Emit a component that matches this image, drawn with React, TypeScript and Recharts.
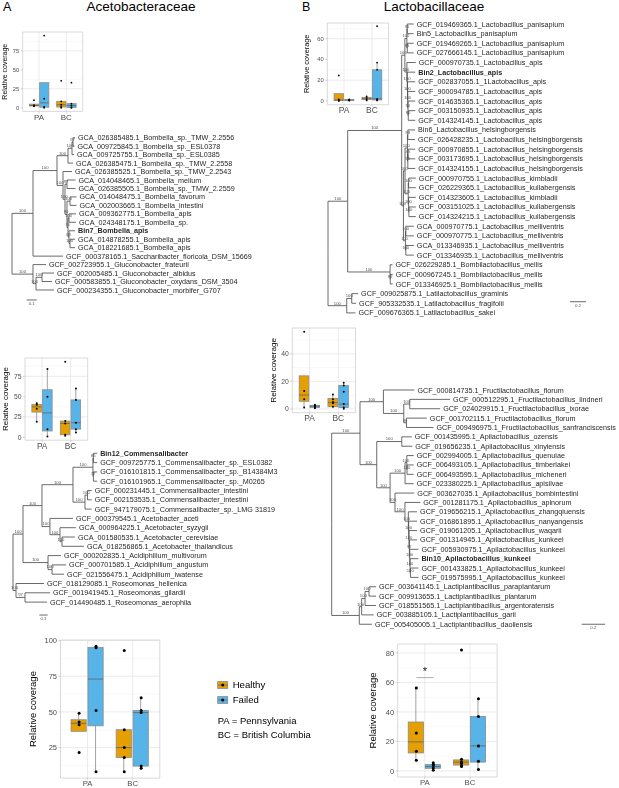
import React from 'react';
import { ComposedChart, Line, Scatter, Bar, XAxis, YAxis, CartesianGrid, ReferenceArea, Legend } from 'recharts';

const FONT = '"Liberation Sans", Arial, Helvetica, sans-serif';
const HEALTHY_COLOR = '#E69F00';
const FAILED_COLOR = '#56B4E9';
const BOX_LINE = '#8c8c8c';
const TREE_LINE = '#454545';
const CATEGORIES = ['PA', 'BC'];
const GROUPS = ['Healthy', 'Failed'];
const REGION_NOTES = ['PA = Pennsylvania', 'BC = British Columbia'];
const DODGE = 0.1875;

// ---------- box plot data: [lower whisker, Q1, median, Q3, upper whisker] for PA, BC ----------
const BOMBELLA_HEALTHY_BOX = [[2, 2.4, 3, 4.8, 4.8], [0, 1, 4, 8.5, 8.5]];
const BOMBELLA_FAILED_BOX = [[0, 0.75, 6.5, 33, 33], [0, 0.5, 3, 5.5, 5.5]];
const BOMBELLA_HEALTHY_PTS = [[10, 3.5, 2.5, 2], [35.5, 8.5, 4, 1, 0]];
const BOMBELLA_FAILED_PTS = [[95, 12, 1, 0], [33, 5.5, 3, 0.5, 0]];

const COMMENSALIBACTER_HEALTHY_BOX = [[19, 31, 37.5, 40.5, 42], [2, 3, 17, 20, 20]];
const COMMENSALIBACTER_FAILED_BOX = [[1, 7.75, 30, 58.5, 84], [6, 10, 18, 46, 60]];
const COMMENSALIBACTER_HEALTHY_PTS = [[42, 40, 35, 19], [93, 20, 17, 3, 2]];
const COMMENSALIBACTER_FAILED_PTS = [[84, 50, 10, 1], [60, 46, 18, 10, 6]];

const ACETO_HEALTHY_BOX = [[36.4, 36.4, 42, 44.5, 49], [8, 18, 25, 37.5, 37.5]];
const ACETO_FAILED_BOX = [[8, 40.25, 73, 95.25, 96], [10.5, 12, 49.5, 51, 60]];
const ACETO_HEALTHY_PTS = [[49, 43, 41, 21.5], [93, 37.5, 25, 18, 8]];
const ACETO_FAILED_PTS = [[96, 95, 51, 8], [60, 51, 49.5, 12, 10.5]];

const LACTOBACILLUS_HEALTHY_BOX = [[0, 0.4, 1, 7, 7], [0.5, 1.3, 2.2, 3.5, 4.5]];
const LACTOBACILLUS_FAILED_BOX = [[0.3, 0.6, 0.9, 1.2, 1.5], [0.5, 1, 2, 30, 37]];
const LACTOBACILLUS_HEALTHY_PTS = [[24.5, 1.5, 0.5, 0], [4.5, 3, 1.5, 0.5]];
const LACTOBACILLUS_FAILED_PTS = [[1.5, 1.1, 0.7, 0.3], [72, 37, 30, 2, 1, 0.5]];

const APILACTO_HEALTHY_BOX = [[1, 5.5, 10, 24, 24], [1, 1.5, 4.5, 7.5, 10.5]];
const APILACTO_FAILED_BOX = [[0.5, 1, 2, 2.5, 3], [0, 1, 3.5, 17, 19]];
const APILACTO_HEALTHY_PTS = [[56, 13, 7, 1], [10.5, 7, 5, 4, 1.5]];
const APILACTO_FAILED_PTS = [[3, 2.5, 2, 1, 0.5], [19, 17, 12.5, 3.5, 1, 0]];

const LACTO_HEALTHY_BOX = [[7.3, 12.2, 19.7, 33.2, 56.3], [3, 4, 6, 7.5, 8]];
const LACTO_FAILED_BOX = [[0.5, 1.8, 3, 4.3, 5.5], [1, 6, 17, 37, 49]];
const LACTO_HEALTHY_PTS = [[56.3, 25.8, 13.4, 7.3], [82, 8, 6, 5, 3.5, 3]];
const LACTO_FAILED_PTS = [[5.5, 4.5, 3.5, 2, 0.5], [49, 37, 17, 6.5, 1]];
const LACTO_SIG_LINE = [{ x: 1 - DODGE, y: 63.3 }, { x: 1 + DODGE, y: 63.3 }];
const LACTO_SIG_STAR = [{ x: 1, y: 69.3, s: '*' }];

const TICKS_25 = [0, 25, 50, 75];
const MINOR_25 = [12.5, 37.5, 62.5, 87.5];
const TICKS_ACETO = [25, 50, 75, 100];
const TICKS_20 = [0, 20, 40, 60];
const MINOR_20 = [10, 30, 50, 70];
const TICKS_APILACTO = [0, 20, 40];
const MINOR_APILACTO = [10, 30, 50];
const TICKS_LACTO = [0, 20, 40, 60, 80];

// ---------- trees ----------
const BOLD_LABELS = ['Bin7_Bombella_apis', 'Bin12_Commensalibacter', 'Bin2_Lactobacillus_apis', 'Bin10_Apilactobacillus_kunkeei'];

const A1_LEAVES = [
  'GCA_026385485.1_Bombella_sp._TMW_2.2556',
  'GCA_009725845.1_Bombella_sp._ESL0378',
  'GCA_009725755.1_Bombella_sp._ESL0385',
  'GCA_026385475.1_Bombella_sp._TMW_2.2558',
  'GCA_026385525.1_Bombella_sp._TMW_2.2543',
  'GCA_014048465.1_Bombella_mellum',
  'GCA_026385505.1_Bombella_sp._TMW_2.2559',
  'GCA_014048475.1_Bombella_favorum',
  'GCA_002003665.1_Bombella_intestini',
  'GCA_009362775.1_Bombella_apis',
  'GCA_024348175.1_Bombella_sp.',
  'Bin7_Bombella_apis',
  'GCA_014878255.1_Bombella_apis',
  'GCA_018221685.1_Bombella_apis',
  'GCF_000378165.1_Saccharibacter_floricola_DSM_15669',
  'GCF_002723955.1_Gluconobacter_frateurii',
  'GCF_002005485.1_Gluconobacter_albidus',
  'GCF_000583855.1_Gluconobacter_oxydans_DSM_3504',
  'GCF_000234355.1_Gluconobacter_morbifer_G707',
];
const A1_UPPER = '(((0:0.02,1:0.015)97:0.01,2:0.02)100:0.04,3:0.05)100:0.11';
const A1_MELLUM = '(5:0.085,6:0.085)97:0.02';
const A1_APIS = '((9:0.07,10:0.07)100:0.01,(11:0.06,(12:0.05,13:0.05)100:0.01)63:0.01)75:0.01';
const A1_REST = '((7:0.065,8:0.065)100:0.03,' + A1_APIS + ')90:0.02';
const A1_LOWER = '(4:0.09,(' + A1_MELLUM + ',' + A1_REST + ')100:0.02)100:0.06';
const A1_BOMBELLA = '(' + A1_UPPER + ',' + A1_LOWER + ')100:0.24';
const A1_GLUCONO = '(15:0.13,((16:0.12,17:0.1)100:0.06,18:0.18)100:0.03)100:0.21';
const A1_TREE = '((' + A1_BOMBELLA + ',14:0.30)100:0.21,' + A1_GLUCONO + ');';

const A2_LEAVES = [
  'Bin12_Commensalibacter',
  'GCF_009725775.1_Commensalibacter_sp._ESL0382',
  'GCF_016101815.1_Commensalibacter_sp._B14384M3',
  'GCF_016101965.1_Commensalibacter_sp._M0265',
  'GCF_000231445.1_Commensalibacter_intestini',
  'GCF_002153535.1_Commensalibacter_intestini',
  'GCF_947179075.1_Commensalibacter_sp._LMG 31819',
  'GCF_000379545.1_Acetobacter_aceti',
  'GCA_000964225.1_Acetobacter_syzygii',
  'GCA_001580535.1_Acetobacter_cerevisiae',
  'GCA_018256865.1_Acetobacter_thailandicus',
  'GCF_000202835.1_Acidiphilium_multivorum',
  'GCF_000701585.1_Acidiphilium_angustum',
  'GCF_021556475.1_Acidiphilium_iwatense',
  'GCF_018129085.1_Roseomonas_hellenica',
  'GCF_001941945.1_Roseomonas_gilardii',
  'GCF_014490485.1_Roseomonas_aerophila',
];
const A2_BIN12 = '((0:0.045,1:0.045)85:0.005,(2:0.045,3:0.045)77:0.005)100:0.238';
const A2_INTEST = '((4:0.05,5:0.05)100:0.03,6:0.08)100:0.143';
const A2_ACETO = '(7:0.274,(8:0.19,(9:0.155,10:0.262)100:0.024)100:0.119)100:0.095';
const A2_ACID = '(11:0.155,(12:0.167,13:0.143)100:0.048)100:0.298';
const A2_ROSEO = '(14:0.333,(15:0.298,16:0.262)97:0.107)100:0.036';
const A2_TREE = '((((' + A2_BIN12 + ',' + A2_INTEST + ')100:0.369,' + A2_ACETO + ')100:0.226,' + A2_ACID + ')100:0.119,' + A2_ROSEO + ');';

const B1_LEAVES = [
  'GCF_019469365.1_Lactobacillus_panisapium',
  'Bin5_Lactobacillus_panisapium',
  'GCF_019469265.1_Lactobacillus_panisapium',
  'GCF_027666145.1_Lactobacillus_panisapium',
  'GCF_000970735.1_Lactobacillus_apis',
  'Bin2_Lactobacillus_apis',
  'GCF_002837055.1_1Lactobacillus_apis',
  'GCF_900094785.1_Lactobacillus_apis',
  'GCF_014635365.1_Lactobacillus_apis',
  'GCF_003150935.1_Lactobacillus_apis',
  'GCF_014324145.1_Lactobacillus_apis',
  'Bin6_Lactobacillus_helsingborgensis',
  'GCF_026428235.1_Lactobacillus_helsingborgensis',
  'GCF_000970855.1_Lactobacillus_helsingborgensis',
  'GCF_003173695.1_Lactobacillus_helsingborgensis',
  'GCF_014324155.1_Lactobacillus_helsingborgensis',
  'GCF_000970755.1_Lactobacillus_kimbladii',
  'GCF_026229365.1_Lactobacillus_kullabergensis',
  'GCF_014323605.1_Lactobacillus_kimbladii',
  'GCF_003151025.1_Lactobacillus_kullabergensis',
  'GCF_014324215.1_Lactobacillus_kullabergensis',
  'GCA_000970775.1_Lactobacillus_melliventris',
  'GCF_000970775.1_Lactobacillus_melliventris',
  'GCA_013346935.1_Lactobacillus_melliventris',
  'GCF_013346935.1_Lactobacillus_melliventris',
  'GCF_026229285.1_Bombilactobacillus_mellis',
  'GCF_000967245.1_Bombilactobacillus_mellis',
  'GCF_013346925.1_Bombilactobacillus_mellis',
  'GCF_009025875.1_Latilactobacillus_graminis',
  'GCF_905332535.1_Latilactobacillus_fragifolii',
  'GCF_009676365.1_Latilactobacillus_sakei',
];
const B1_PAN = '((0:0.08,1:0.08)96:0.005,(2:0.08,3:0.08)95:0.005)100:0.025';
const B1_APIS = '(4:0.11,(5:0.1,(6:0.097,(7:0.094,(8:0.091,(9:0.088,10:0.088)80:0.003)90:0.003)100:0.003)100:0.003)100:0.005)100:0.025';
const B1_HELS = '((11:0.09,12:0.09)98:0.005,((13:0.09,14:0.09)45:0.003,15:0.093)96:0.005)100:0.03';
const B1_KK = '((16:0.09,17:0.09)100:0.005,(18:0.09,(19:0.087,20:0.087)100:0.003)100:0.005)100:0.04';
const B1_MEL = '((21:0.1,22:0.1)100:0.005,(23:0.1,24:0.1)100:0.005)100:0.025';
const B1_LACTO = '((' + B1_PAN + ',' + B1_APIS + ')100:0.04,((' + B1_HELS + ',' + B1_KK + ')100:0.02,' + B1_MEL + ')100:0.022)100:0.675';
const B1_BOMBI = '(25:0.03,(26:0.03,27:0.03)97:0.002)100:0.53';
const B1_LATI = '((28:0.08,29:0.055)100:0.0625,30:0.11)100:0.234';
const B1_TREE = '((' + B1_LACTO + ',' + B1_BOMBI + ')100:0.246,' + B1_LATI + ');';

const B2_LEAVES = [
  'GCF_000814735.1_Fructilactobacillus_florum',
  'GCF_000512295.1_Fructilactobacillus_lindneri',
  'GCF_024029915.1_Fructilactobacillus_ixorae',
  'GCF_001702115.1_Fructilactobacillus_florum',
  'GCF_009496975.1_Fructilactobacillus_sanfranciscensis',
  'GCF_001435995.1_Apilactobacillus_ozensis',
  'GCF_019656235.1_Apilactobacillus_xinyiensis',
  'GCF_002994005.1_Apilactobacillus_quenuiae',
  'GCF_006493105.1_Apilactobacillus_timberlakei',
  'GCF_006493595.1_Apilactobacillus_micheneri',
  'GCF_023380225.1_Apilactobacillus_apisilvae',
  'GCF_003627035.1_Apilactobacillus_bombintestini',
  'GCF_001281175.1_Apilactobacillus_apinorum',
  'GCF_019656215.1_Apilactobacillus_zhangqiuensis',
  'GCF_016861895.1_Apilactobacillus_nanyangensis',
  'GCF_019061205.1_Apilactobacillus_waqarii',
  'GCF_001314945.1_Apilactobacillus_kunkeei',
  'GCF_005930975.1_Apilactobacillus_kunkeei',
  'Bin10_Apilactobacillus_kunkeei',
  'GCF_001433825.1_Apilactobacillus_kunkeei',
  'GCF_019575995.1_Apilactobacillus_kunkeei',
  'GCF_003641145.1_Lactiplantibacillus_paraplantarum',
  'GCF_009913655.1_Lactiplantibacillus_plantarum',
  'GCF_018551565.1_Lactiplantibacillus_argentoratensis',
  'GCF_003885105.1_Lactiplantibacillus_garii',
  'GCF_005405005.1_Lactiplantibacillus_daoliensis',
];
const B2_FRUCTI = '(0:0.265,((1:0.345,2:0.26)100:0.051,(3:0.174,4:0.231)96:0.023)100:0.174)100:0.2';
const B2_OZ = '(5:0.085,6:0.09)100:0.214';
const B2_QUEN = '((7:0.059,(8:0.057,9:0.057)100:0.002)100:0.015,10:0.074)100:0.128';
const B2_KUN = '(13:0.075,(14:0.072,(15:0.069,(16:0.066,(17:0.074,(18:0.071,(19:0.068,20:0.068)100:0.003)100:0.003)100:0.003)97:0.003)100:0.003)100:0.003)100:0.029';
const B2_BK = '(11:0.165,(12:0.131,' + B2_KUN + ')100:0.085)100:0.042';
const B2_API = '(' + B2_OZ + ',(' + B2_QUEN + ',' + B2_BK + ')100:0.114)100:0.143';
const B2_LPL = '((((21:0.06,22:0.06)100:0.034,23:0.094)100:0.029,24:0.103)100:0.02,25:0.108)100:0.236';
const B2_TREE = '((' + B2_FRUCTI + ',' + B2_API + ')100:0.242,' + B2_LPL + ');';

// ---------- tree helpers ----------
function parseNewick(src: string) {
  let i = 0;
  const node = (): any => {
    const n: any = { children: [], name: '', len: 0, support: '' };
    if (src[i] === '(') {
      i++;
      n.children.push(node());
      while (src[i] === ',') { i++; n.children.push(node()); }
      i++;
    }
    let label = '';
    while (i < src.length && !'(),:;'.includes(src[i])) label += src[i++];
    if (src[i] === ':') {
      i++;
      let num = '';
      while (i < src.length && !'(),;'.includes(src[i])) num += src[i++];
      n.len = parseFloat(num);
    }
    if (n.children.length) n.support = label.trim(); else n.name = label.trim();
    return n;
  };
  return node();
}

function layoutTree(src: string, leaves: string[]) {
  const root = parseNewick(src);
  let next = 0;
  const place = (n: any, x: number) => {
    n.x = x;
    if (!n.children.length) n.y = next++;
    else {
      n.children.forEach((c: any) => place(c, x + c.len));
      n.y = (n.children[0].y + n.children[n.children.length - 1].y) / 2;
    }
  };
  place(root, 0);
  const segs: any[] = [];
  const tips: any[] = [];
  const supports: any[] = [];
  const walk = (n: any, p: any) => {
    if (p) {
      segs.push({ x: p.x, y: p.y }, { x: p.x, y: n.y }, { x: n.x, y: n.y }, { x: n.x, y: null });
      if (n.children.length && n.support) supports.push({ x: (p.x + n.x) / 2, y: n.y, s: n.support });
    }
    if (!n.children.length) {
      const label = leaves[Number(n.name)];
      tips.push({ x: n.x, y: n.y, label, bold: BOLD_LABELS.includes(label) });
    }
    n.children.forEach((c: any) => walk(c, n));
  };
  walk(root, null);
  return { segs, tips, supports };
}

const tipShape = (p: any) => {
  const d = p.payload || p;
  return (
    <text x={p.cx + 3} y={p.cy} dy="0.35em" fontSize={7.2} fontFamily={FONT} fill="#262626" fontWeight={d.bold ? 'bold' : 'normal'}>
      {d.label}
    </text>
  );
};
const supportShape = (p: any) => {
  const d = p.payload || p;
  return (
    <text x={p.cx} y={p.cy - 1.1} textAnchor="middle" fontSize={4.2} fontFamily={FONT} fill="#555">
      {d.s}
    </text>
  );
};
const scaleLabelShape = (p: any) => {
  const d = p.payload || p;
  return (
    <text x={p.cx} y={p.cy + 4.8} textAnchor="middle" fontSize={4.4} fontFamily={FONT} fill="#555">
      {d.s}
    </text>
  );
};

function TreeChart(props: any) {
  const { tree, leaves, left, top, width, height, rootPx, y0, spacing, ppu, bar } = props;
  const { segs, tips, supports } = layoutTree(tree, leaves);
  const xMin = -(rootPx - left) / ppu;
  const yMin = -(y0 - top) / spacing;
  const barLine = [{ x: bar.x, y: bar.y }, { x: bar.x + bar.len, y: bar.y }];
  const barLabel = [{ x: bar.x + bar.len / 2, y: bar.y, s: bar.label }];
  return (
    <div style={{ position: 'absolute', left, top, willChange: 'transform' }}>
      <ComposedChart width={width} height={height} margin={{ top: 0, right: 0, bottom: 0, left: 0 }}>
        <XAxis type="number" dataKey="x" domain={[xMin, xMin + width / ppu]} allowDataOverflow hide />
        <YAxis type="number" dataKey="y" domain={[yMin, yMin + height / spacing]} allowDataOverflow hide reversed />
        <Line data={segs} dataKey="y" stroke={TREE_LINE} strokeWidth={0.8} dot={false} activeDot={false} connectNulls={false} isAnimationActive={false} />
        <Line data={barLine} dataKey="y" stroke={TREE_LINE} strokeWidth={0.8} dot={false} activeDot={false} isAnimationActive={false} />
        <Scatter data={tips} shape={tipShape} isAnimationActive={false} />
        <Scatter data={supports} shape={supportShape} isAnimationActive={false} />
        <Scatter data={barLabel} shape={scaleLabelShape} isAnimationActive={false} />
      </ComposedChart>
    </div>
  );
}

// ---------- box plot helpers ----------
function boxShape(key: string, fill: string) {
  return (props: any) => {
    const { x, y, width, height, payload } = props;
    const s = payload[key];
    const [lo, q1, md, q3, hi] = s;
    const span = hi - lo;
    if (!span || !isFinite(height)) return <g />;
    const top = Math.min(y, y + height);
    const bottom = Math.max(y, y + height);
    const k = (bottom - top) / span;
    const py = (v: number) => bottom - (v - lo) * k;
    const cx = x + width / 2;
    return (
      <g>
        <line x1={cx} x2={cx} y1={py(hi)} y2={py(lo)} stroke={BOX_LINE} strokeWidth={0.8} />
        <rect x={x} y={py(q3)} width={width} height={Math.max(0.6, py(q1) - py(q3))} fill={fill} stroke={BOX_LINE} strokeWidth={0.8} />
        <line x1={x} x2={x + width} y1={py(md)} y2={py(md)} stroke="#6a6a6a" strokeWidth={0.9} />
      </g>
    );
  };
}

const dotShape = (r: number) => (p: any) => <circle cx={p.cx} cy={p.cy} r={r} fill="#000" />;
const starShape = (p: any) => {
  const d = p.payload || p;
  return (
    <text x={p.cx} y={p.cy} dy="0.55em" textAnchor="middle" fontSize={11} fontFamily={FONT} fill="#222">
      {d.s}
    </text>
  );
};

function LegendBox({ fill, y }: any) {
  return (
    <g>
      <rect x={11.7} y={y - 3.4} width={10} height={6.8} fill={fill} stroke={BOX_LINE} strokeWidth={0.8} />
      <line x1={11.7} x2={21.7} y1={y} y2={y} stroke="#6a6a6a" strokeWidth={0.8} />
      <circle cx={16.7} cy={y} r={1.5} fill="#000" />
    </g>
  );
}

function BoxPanel(props: any) {
  const { plot, domain, ticks, minor, healthyBox, failedBox, healthyPts, failedPts, tickFont, xFont, titleFont, titleX, dotR, legendAt, children } = props;
  const chartLeft = Math.max(0, titleX - titleFont);
  const AX = plot.x - chartLeft;
  const TOPM = 6;
  const XB = 16;
  const RM = legendAt ? 150 : 6;
  const chartTop = plot.y - TOPM;
  const width = AX + plot.w + RM;
  const height = TOPM + plot.h + XB;
  const band = plot.w / 2.2;
  const rows = CATEGORIES.map((c, i) => ({
    cat: c,
    hR: [healthyBox[i][0], healthyBox[i][4]],
    fR: [failedBox[i][0], failedBox[i][4]],
    h: healthyBox[i],
    f: failedBox[i],
  }));
  const hPts = healthyPts.flatMap((vals: number[], i: number) => vals.map((v) => ({ x: i + 1 - DODGE, y: v })));
  const fPts = failedPts.flatMap((vals: number[], i: number) => vals.map((v) => ({ x: i + 1 + DODGE, y: v })));
  const tcx = titleX - chartLeft;
  const tcy = TOPM + plot.h / 2;
  const renderTitle = () => (
    <text x={tcx} y={tcy} transform={`rotate(-90 ${tcx} ${tcy})`} textAnchor="middle" dy="0.35em" fontSize={titleFont} fontFamily={FONT} fill="#000">
      Relative coverage
    </text>
  );
  const legendContent = () => (
    <svg width={140} height={80} style={{ overflow: 'visible', display: 'block' }}>
      <LegendBox fill={HEALTHY_COLOR} y={10} />
      <text x={26.7} y={10} dy="0.35em" fontSize={9.6} fontFamily={FONT} fill="#000">{GROUPS[0]}</text>
      <LegendBox fill={FAILED_COLOR} y={25} />
      <text x={26.7} y={25} dy="0.35em" fontSize={9.6} fontFamily={FONT} fill="#000">{GROUPS[1]}</text>
      <text x={11.7} y={45.3} dy="0.35em" fontSize={9.5} fontFamily={FONT} fill="#000">{REGION_NOTES[0]}</text>
      <text x={11.7} y={60} dy="0.35em" fontSize={9.5} fontFamily={FONT} fill="#000">{REGION_NOTES[1]}</text>
    </svg>
  );
  const tickStyle = { fontSize: tickFont, fill: '#4d4d4d', fontFamily: FONT };
  return (
    <div style={{ position: 'absolute', left: chartLeft, top: chartTop, willChange: 'transform' }}>
      <ComposedChart width={width} height={height} data={rows} margin={{ top: TOPM, right: RM, bottom: 0, left: 0 }} barSize={0.3375 * band} barGap={0.0375 * band}>
        <CartesianGrid xAxisId="num" horizontalValues={minor} vertical={false} stroke="#f1f1f1" strokeWidth={0.5} />
        <CartesianGrid xAxisId="num" horizontalValues={ticks} verticalValues={[1, 2]} stroke="#e3e3e3" strokeWidth={0.7} />
        <XAxis xAxisId="cat" dataKey="cat" type="category" padding={{ left: band * 0.1, right: band * 0.1 }} height={XB} tickSize={2} tickMargin={0.5} axisLine={false} tickLine={{ stroke: '#b3b3b3', strokeWidth: 0.6 }} tick={{ fontSize: xFont, fill: '#4d4d4d', fontFamily: FONT }} interval={0} />
        <XAxis xAxisId="num" type="number" dataKey="x" domain={[0.4, 2.6]} allowDataOverflow hide />
        <YAxis type="number" dataKey="y" domain={domain} allowDataOverflow ticks={ticks} width={AX} tickSize={2} tickMargin={1.5} axisLine={false} tickLine={{ stroke: '#b3b3b3', strokeWidth: 0.6 }} tick={tickStyle} label={renderTitle} />
        <Bar xAxisId="cat" dataKey="hR" shape={boxShape('h', HEALTHY_COLOR)} isAnimationActive={false} />
        <Bar xAxisId="cat" dataKey="fR" shape={boxShape('f', FAILED_COLOR)} isAnimationActive={false} />
        <Scatter xAxisId="num" data={hPts} shape={dotShape(dotR)} isAnimationActive={false} />
        <Scatter xAxisId="num" data={fPts} shape={dotShape(dotR)} isAnimationActive={false} />
        <ReferenceArea xAxisId="num" x1={0.4} x2={2.6} y1={domain[0]} y2={domain[1]} fill="none" fillOpacity={0} stroke="#cfcfcf" strokeWidth={0.8} ifOverflow="visible" />
        {children}
        {legendAt ? (
          <Legend layout="horizontal" verticalAlign="middle" align="center" content={legendContent}
            wrapperStyle={{ left: legendAt.x - chartLeft, top: legendAt.y - chartTop, width: 140, height: 80 }} />
        ) : null}
      </ComposedChart>
    </div>
  );
}

export default function App() {
  return (
    <div style={{ position: 'absolute', left: 0, top: 0, width: 619, height: 788, background: '#fff', overflow: 'hidden', fontFamily: FONT }}>
      <svg width={619} height={20} style={{ position: 'absolute', left: 0, top: 0 }}>
        <text x={3} y={10.7} fontSize={12.5} fontFamily={FONT} fill="#000">A</text>
        <text x={141} y={10.7} textAnchor="middle" fontSize={13.5} fontFamily={FONT} fill="#000">Acetobacteraceae</text>
        <text x={302} y={10.7} fontSize={12.5} fontFamily={FONT} fill="#000">B</text>
        <text x={434} y={10.7} textAnchor="middle" fontSize={13.5} fontFamily={FONT} fill="#000">Lactobacillaceae</text>
      </svg>

      <TreeChart tree={A1_TREE} leaves={A1_LEAVES} left={0} top={125} width={305} height={190} rootPx={12} y0={137.7} spacing={8.46} ppu={100}
        bar={{ x: 0.147, y: 19.18, len: 0.1, label: '0.1' }} />
      <TreeChart tree={A2_TREE} leaves={A2_LEAVES} left={0} top={440} width={305} height={185} rootPx={13} y0={453.3} spacing={9.3} ppu={84}
        bar={{ x: 0.313, y: 17.39, len: 0.1, label: '0.1' }} />
      <TreeChart tree={B1_TREE} leaves={B1_LEAVES} left={320} top={15} width={299} height={305} rootPx={328} y0={24} spacing={9.63} ppu={80}
        bar={{ x: 3.025, y: 28.84, len: 0.2, label: '0.2' }} />
      <TreeChart tree={B2_TREE} leaves={B2_LEAVES} left={320} top={380} width={299} height={255} rootPx={331.7} y0={390} spacing={9.37} ppu={117}
        bar={{ x: 2.137, y: 25.0, len: 0.2, label: '0.2' }} />

      <BoxPanel plot={{ x: 22.7, y: 32.3, w: 60, h: 79.4 }} domain={[-4.75, 99.75]} ticks={TICKS_25} minor={MINOR_25}
        healthyBox={BOMBELLA_HEALTHY_BOX} failedBox={BOMBELLA_FAILED_BOX} healthyPts={BOMBELLA_HEALTHY_PTS} failedPts={BOMBELLA_FAILED_PTS}
        tickFont={5.8} xFont={8} titleFont={7} titleX={4.5} dotR={0.9} />
      <BoxPanel plot={{ x: 25, y: 357.7, w: 62.7, h: 82.2 }} domain={[-3.6, 97.6]} ticks={TICKS_25} minor={MINOR_25}
        healthyBox={COMMENSALIBACTER_HEALTHY_BOX} failedBox={COMMENSALIBACTER_FAILED_BOX} healthyPts={COMMENSALIBACTER_HEALTHY_PTS} failedPts={COMMENSALIBACTER_FAILED_PTS}
        tickFont={6.8} xFont={8.3} titleFont={8} titleX={5.5} dotR={1} />
      <BoxPanel plot={{ x: 60, y: 640.4, w: 99.3, h: 138.1 }} domain={[3.6, 100.4]} ticks={TICKS_ACETO} minor={MINOR_25}
        healthyBox={ACETO_HEALTHY_BOX} failedBox={ACETO_FAILED_BOX} healthyPts={ACETO_HEALTHY_PTS} failedPts={ACETO_FAILED_PTS}
        tickFont={7.5} xFont={7.8} titleFont={9.5} titleX={32} dotR={1.5} legendAt={{ x: 205, y: 675 }} />
      <BoxPanel plot={{ x: 327, y: 23.3, w: 61.3, h: 81.7 }} domain={[-3.6, 75.1]} ticks={TICKS_20} minor={MINOR_20}
        healthyBox={LACTOBACILLUS_HEALTHY_BOX} failedBox={LACTOBACILLUS_FAILED_BOX} healthyPts={LACTOBACILLUS_HEALTHY_PTS} failedPts={LACTOBACILLUS_FAILED_PTS}
        tickFont={5.8} xFont={8.5} titleFont={7.3} titleX={306} dotR={0.9} />
      <BoxPanel plot={{ x: 292.7, y: 328.2, w: 63.3, h: 84.7 }} domain={[-2.8, 58.8]} ticks={TICKS_APILACTO} minor={MINOR_APILACTO}
        healthyBox={APILACTO_HEALTHY_BOX} failedBox={APILACTO_FAILED_BOX} healthyPts={APILACTO_HEALTHY_PTS} failedPts={APILACTO_FAILED_PTS}
        tickFont={6.8} xFont={8.4} titleFont={8.1} titleX={273.5} dotR={1} />
      <BoxPanel plot={{ x: 397.2, y: 643.7, w: 99.4, h: 133 }} domain={[-4.1, 86.1]} ticks={TICKS_LACTO} minor={MINOR_20}
        healthyBox={LACTO_HEALTHY_BOX} failedBox={LACTO_FAILED_BOX} healthyPts={LACTO_HEALTHY_PTS} failedPts={LACTO_FAILED_PTS}
        tickFont={7.5} xFont={7.8} titleFont={9.5} titleX={372} dotR={1.5}>
        <Line xAxisId="num" data={LACTO_SIG_LINE} dataKey="y" stroke="#9a9a9a" strokeWidth={0.8} dot={false} activeDot={false} isAnimationActive={false} />
        <Scatter xAxisId="num" data={LACTO_SIG_STAR} shape={starShape} isAnimationActive={false} />
      </BoxPanel>
    </div>
  );
}
